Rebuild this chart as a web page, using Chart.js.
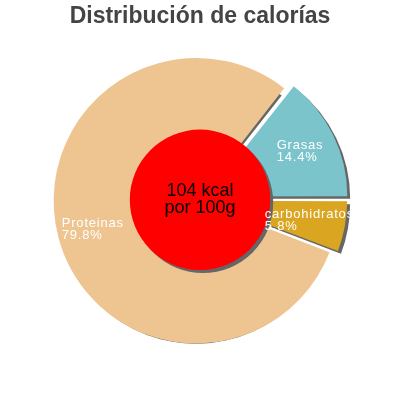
<!DOCTYPE html>
<html>
<head>
<meta charset="utf-8">
<script src="https://cdn.jsdelivr.net/npm/chart.js@4/dist/chart.umd.min.js"></script>
<style>
  html, body { margin: 0; padding: 0; background: #fff; }
  #wrap { width: 400px; height: 400px; }
</style>
</head>
<body>
<div id="wrap"><canvas id="calorias"></canvas></div>
<script>
// Static data
const labels = ["Grasas", "carbohidratos", "Proteinas"];
const values = [14.4, 5.8, 79.8];
const colors = ["#7bc4cc", "#daa520", "#eec591"];
const offsets = [30, 20, 15];
const centerLines = ["104 kcal", "por 100g"];

const total = values.reduce((a, b) => a + b, 0);
// first slice sits just above the 3 o'clock line
const rotation = 90 - (values[0] / total) * 360;

const SHADOW = "#666666";
const SH_X = 3;
const SH_Y = 3;

// shift used by ArcElement.draw for an offset slice
const arcShift = (arc) => {
    const { startAngle, endAngle } = arc.getProps(["startAngle", "endAngle"], true);
    const off = (arc.options.offset || 0) / 4;
    const fix = 1 - Math.sin(Math.min(Math.PI, endAngle - startAngle));
    const t = off + off * fix;
    const mid = (startAngle + endAngle) / 2;
    return { dx: Math.cos(mid) * t, dy: Math.sin(mid) * t };
};

const pieDecor = {
    id: "pieDecor",
    beforeDatasetsDraw(chart) {
        const { ctx } = chart;
        const arcs = chart.getDatasetMeta(0).data;
        ctx.save();
        ctx.fillStyle = SHADOW;
        arcs.forEach((arc) => {
            const p = arc.getProps(["x", "y", "startAngle", "endAngle", "outerRadius"], true);
            const { dx, dy } = arcShift(arc);
            const cx = p.x + dx + SH_X;
            const cy = p.y + dy + SH_Y;
            ctx.beginPath();
            ctx.moveTo(cx, cy);
            ctx.arc(cx, cy, p.outerRadius, p.startAngle, p.endAngle);
            ctx.closePath();
            ctx.fill();
        });
        ctx.restore();
    },
    afterDatasetsDraw(chart) {
        const { ctx } = chart;
        const arcs = chart.getDatasetMeta(0).data;
        const first = arcs[0].getProps(["x", "y", "outerRadius"], true);
        const r = first.outerRadius * 0.505;

        // red centre disc with its shadow
        ctx.save();
        ctx.fillStyle = SHADOW;
        ctx.beginPath();
        ctx.arc(first.x + SH_X, first.y + SH_Y, r, 0, Math.PI * 2);
        ctx.fill();
        ctx.fillStyle = "#ff0000";
        ctx.beginPath();
        ctx.arc(first.x, first.y, r, 0, Math.PI * 2);
        ctx.fill();

        ctx.fillStyle = "#000";
        ctx.font = "18px 'Liberation Sans', Arial, sans-serif";
        ctx.textAlign = "center";
        ctx.textBaseline = "middle";
        ctx.fillText(centerLines[0], first.x, first.y - 9);
        ctx.fillText(centerLines[1], first.x, first.y + 8);

        // slice labels, left aligned block centred on the mid angle
        ctx.font = "13px 'Liberation Sans', Arial, sans-serif";
        ctx.letterSpacing = "0.8px";
        ctx.textAlign = "left";
        ctx.textBaseline = "alphabetic";
        ctx.fillStyle = "#ffffff";
        arcs.forEach((arc, i) => {
            const p = arc.getProps(["x", "y", "startAngle", "endAngle", "outerRadius"], true);
            const mid = (p.startAngle + p.endAngle) / 2;
            const px = p.x + Math.cos(mid) * p.outerRadius * 0.8;
            const py = p.y + Math.sin(mid) * p.outerRadius * 0.8;
            const lines = [labels[i], ((values[i] / total) * 100).toFixed(1) + "%"];
            const w = Math.max(...lines.map((l) => ctx.measureText(l).width));
            const left = px - w / 2;
            ctx.fillText(lines[0], left, py - 2);
            ctx.fillText(lines[1], left, py + 10);
        });
        ctx.restore();
    },
};

const chart = new Chart(document.getElementById("calorias"), {
    type: "pie",
    data: {
        labels: labels,
        datasets: [
            {
                data: values,
                backgroundColor: colors,
                borderWidth: 0,
                offset: offsets,
                hoverOffset: 0,
            },
        ],
    },
    options: {
        responsive: true,
        maintainAspectRatio: false,
        animation: false,
        events: [],
        rotation: rotation,
        radius: 139,
        layout: {
            padding: { top: 0, bottom: 31 },
        },
        plugins: {
            legend: { display: false },
            tooltip: { enabled: false },
            title: {
                display: true,
                text: "Distribución de calorías",
                color: "#444444",
                font: {
                    family: "'Liberation Sans', Arial, sans-serif",
                    size: 23,
                    weight: "bold",
                },
                padding: { top: 3, bottom: 0 },
            },
        },
    },
    plugins: [pieDecor],
});
</script>
</body>
</html>
